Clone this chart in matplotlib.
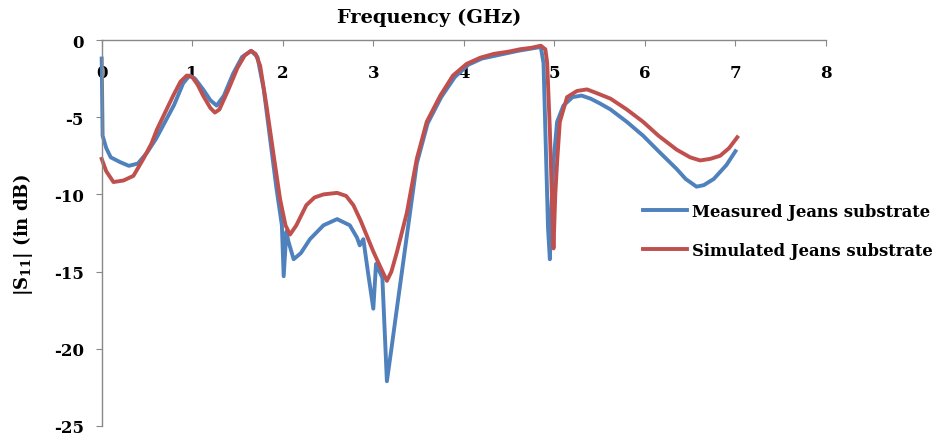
import matplotlib
matplotlib.use("Agg")
import matplotlib.pyplot as plt

# Measured Jeans substrate
meas_f = [0.0, 0.01, 0.05, 0.1, 0.2, 0.3, 0.4, 0.5, 0.6, 0.7, 0.8, 0.9, 0.97, 1.03, 1.12, 1.2,
          1.27, 1.35, 1.45, 1.55, 1.65, 1.72, 1.79, 1.86, 1.93, 1.99, 2.01, 2.04, 2.06, 2.12,
          2.2, 2.3, 2.45, 2.6, 2.74, 2.82, 2.85, 2.89, 2.94, 3.0, 3.03, 3.1, 3.15, 3.2, 3.26,
          3.37, 3.48, 3.6, 3.75, 3.9, 4.05, 4.2, 4.4, 4.6, 4.8, 4.85, 4.88, 4.9, 4.93, 4.95,
          4.97, 4.99, 5.03, 5.1, 5.2, 5.3, 5.4, 5.5, 5.62, 5.8, 5.98, 6.15, 6.35, 6.45, 6.57,
          6.65, 6.76, 6.9, 7.0]
meas_s11 = [-1.2, -6.2, -7.0, -7.6, -7.9, -8.15, -8.0, -7.3, -6.4, -5.3, -4.2, -2.8, -2.3, -2.5,
            -3.2, -3.9, -4.25, -3.6, -2.2, -1.1, -0.7, -1.1, -3.2, -6.4, -9.6, -12.0, -15.3,
            -12.4, -13.0, -14.2, -13.8, -12.9, -12.0, -11.6, -12.0, -12.8, -13.3, -12.9, -15.0,
            -17.4, -14.5, -15.4, -22.1, -20.0, -17.4, -12.7, -8.0, -5.4, -3.7, -2.4, -1.6, -1.2,
            -0.95, -0.7, -0.5, -0.45, -1.5, -5.8, -12.2, -14.2, -10.5, -7.9, -5.3, -4.25, -3.7,
            -3.6, -3.8, -4.1, -4.5, -5.3, -6.2, -7.2, -8.35, -9.0, -9.5, -9.4, -9.0, -8.1, -7.2]

# Simulated Jeans substrate
sim_f = [0.0, 0.05, 0.13, 0.24, 0.35, 0.46, 0.55, 0.61, 0.7, 0.79, 0.87, 0.94, 1.0, 1.06, 1.12,
         1.2, 1.25, 1.3, 1.4, 1.5, 1.58, 1.65, 1.7, 1.75, 1.82, 1.9, 1.97, 2.03, 2.08, 2.15,
         2.26, 2.35, 2.45, 2.6, 2.7, 2.78, 2.86, 2.93, 3.0, 3.07, 3.15, 3.2, 3.26, 3.37, 3.48,
         3.59, 3.74, 3.88, 4.03, 4.18, 4.33, 4.5, 4.62, 4.75, 4.85, 4.9, 4.92, 4.95, 4.99, 5.01,
         5.03, 5.06, 5.14, 5.25, 5.36, 5.45, 5.62, 5.8, 5.98, 6.15, 6.35, 6.5, 6.61, 6.72, 6.83,
         6.93, 7.02]
sim_s11 = [-7.7, -8.5, -9.2, -9.1, -8.8, -7.7, -6.7, -5.8, -4.7, -3.6, -2.7, -2.3, -2.4, -2.9,
           -3.6, -4.4, -4.7, -4.5, -3.2, -1.8, -1.0, -0.7, -0.9, -1.66, -4.25, -7.5, -10.3, -12.0,
           -12.6, -12.0, -10.7, -10.2, -10.0, -9.9, -10.1, -10.7, -11.7, -12.7, -13.7, -14.6,
           -15.6, -15.0, -13.75, -11.2, -7.7, -5.3, -3.6, -2.3, -1.55, -1.15, -0.9, -0.75, -0.6,
           -0.5, -0.37, -0.6, -1.45, -5.8, -13.5, -10.0, -7.9, -5.3, -3.7, -3.3, -3.2, -3.4, -3.8,
           -4.5, -5.3, -6.2, -7.1, -7.6, -7.8, -7.7, -7.5, -7.0, -6.3]

x_ticks = [0, 1, 2, 3, 4, 5, 6, 7, 8]
y_ticks = [-25, -20, -15, -10, -5, 0]
series_labels = ["Measured Jeans substrate", "Simulated Jeans substrate"]

plt.rcParams['axes.unicode_minus'] = False
plt.rcParams['mathtext.fontset'] = 'dejavuserif'
FONT = ['DejaVu Serif']

fig = plt.figure(figsize=(9.38, 4.39), dpi=100)
ax = fig.add_axes([101.7/938, 1-427/439, (826-101.7)/938, (427-41)/439])

blue = '#4F81BD'
red = '#C0504D'
ax.plot(meas_f, meas_s11, color=blue, lw=2.8, label=series_labels[0], solid_joinstyle='round', clip_on=False)
ax.plot(sim_f, sim_s11, color=red, lw=2.8, label=series_labels[1], solid_joinstyle='round', clip_on=False)

ax.set_xlim(0, 8)
ax.set_ylim(-25, 0)
ax.set_xticks(x_ticks)
ax.set_yticks(y_ticks)
ax.set_xticklabels([str(v) for v in x_ticks])
ax.set_yticklabels([str(v) for v in y_ticks])

for s in ['right', 'top']:
    ax.spines[s].set_visible(False)
ax.spines['bottom'].set_position(('axes', 1.0))
for s in ['left', 'bottom']:
    ax.spines[s].set_color('#888888')
    ax.spines[s].set_linewidth(1.0)

ax.tick_params(axis='x', direction='out', length=4, color='#888888', pad=13)
ax.tick_params(axis='y', direction='out', length=4, color='#888888', pad=9)
for lab in ax.get_xticklabels() + ax.get_yticklabels():
    lab.set_fontfamily(FONT)
    lab.set_fontweight('bold')
    lab.set_fontsize(12)

fig.text(429/938, 1-18/439, "Frequency (GHz)", ha='center', va='center',
         fontfamily=FONT, fontweight='bold', fontsize=14)
fig.text(23/938, 1-235/439, r"|S$_{\mathbf{11}}$| (in dB)", ha='center', va='center',
         rotation=90, fontfamily=FONT, fontweight='bold', fontsize=13)

leg = fig.legend(loc='upper left', bbox_to_anchor=(643/938, 1-204/439), frameon=False,
                 handlelength=2.7, handletextpad=0.3, labelspacing=1.35,
                 borderpad=0, borderaxespad=0,
                 prop={'family': FONT, 'weight': 'bold', 'size': 11.8})

fig.savefig('out.png', dpi=100)
